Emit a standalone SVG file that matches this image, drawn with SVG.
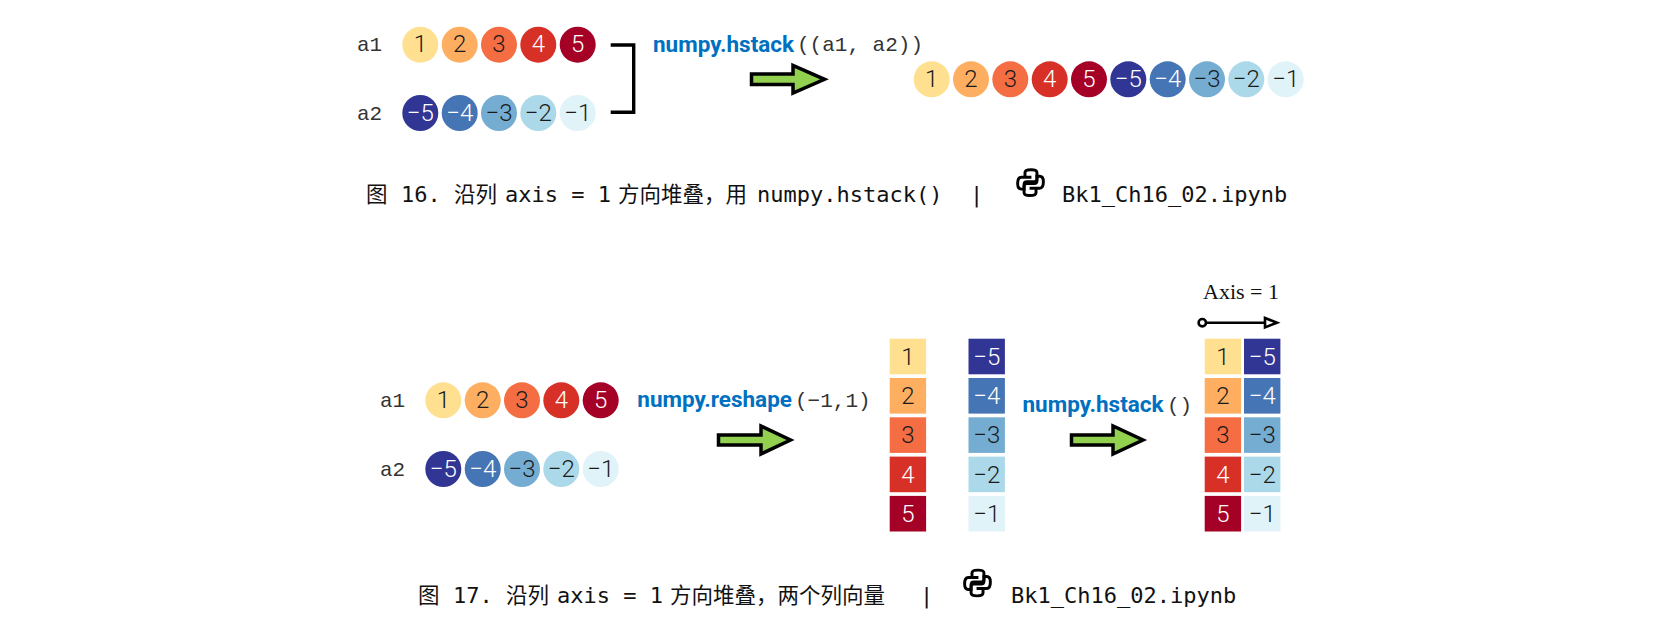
<svg xmlns="http://www.w3.org/2000/svg" width="1655" height="617" viewBox="0 0 1655 617">
<style>
.n{font-family:Roboto,"Liberation Sans",sans-serif;font-weight:300;font-size:24px;text-anchor:middle}
.d{fill:#1a1a1a}.w{fill:#fff}
.m{font-family:"Liberation Mono",monospace;font-size:21px;fill:#333}
.f{font-family:Roboto,"Liberation Sans",sans-serif;font-weight:700;font-size:22.500px;fill:#0070c0}
.c{font-family:"DejaVu Sans Mono","Noto Sans CJK SC",monospace;font-size:22px;fill:#111}
.cj{font-family:"Noto Sans CJK SC",sans-serif;font-size:21.500px;fill:#111}
.ar{fill:#92d050;stroke:#000;stroke-width:3.500;stroke-linejoin:miter}
.ic{fill:none;stroke:#000;stroke-width:3.200}
.c1{fill:#fee090}.c2{fill:#fdae61}.c3{fill:#f46d43}.c4{fill:#d73027}.c5{fill:#a50026}
.b5{fill:#313695}.b4{fill:#4575b4}.b3{fill:#74add1}.b2{fill:#abd9e9}.b1{fill:#e0f3f8}
</style>
<defs>
<path id="sn" class="ic" d="M-6,-6 V-11 Q-6,-14 0.500,-14 Q7,-14 7,-11 V-2 Q7,1 4,1 H-4 Q-7,1 -7,4 V7 H-10 Q-14,7 -14,1 Q-14,-6 -10,-6 H1"/>
<g id="py"><g transform="scale(.92)"><use href="#sn"/><use href="#sn" transform="rotate(180)"/></g></g>
<circle id="k" r="18"/>
<rect id="s" width="36.400" height="35.600"/>
</defs>
<g id="fig16-a1">
<text class="m" x="357" y="51">a1</text>
<use href="#k" x="420.300" y="44.700" class="c1"/><text class="n d" x="420.300" y="52.300">1</text>
<use href="#k" x="459.700" y="44.700" class="c2"/><text class="n d" x="459.700" y="52.300">2</text>
<use href="#k" x="499" y="44.700" class="c3"/><text class="n d" x="499" y="52.300">3</text>
<use href="#k" x="538.300" y="44.700" class="c4"/><text class="n w" x="538.300" y="52.300">4</text>
<use href="#k" x="577.700" y="44.700" class="c5"/><text class="n w" x="577.700" y="52.300">5</text>
</g>
<g id="fig16-a2">
<text class="m" x="357" y="120">a2</text>
<use href="#k" x="420.300" y="113" class="b5"/><text class="n w" x="420.300" y="120.600">−5</text>
<use href="#k" x="459.700" y="113" class="b4"/><text class="n w" x="459.700" y="120.600">−4</text>
<use href="#k" x="499" y="113" class="b3"/><text class="n d" x="499" y="120.600">−3</text>
<use href="#k" x="538.300" y="113" class="b2"/><text class="n d" x="538.300" y="120.600">−2</text>
<use href="#k" x="577.700" y="113" class="b1"/><text class="n d" x="577.700" y="120.600">−1</text>
</g>
<g id="connectors">
<path d="M610.700,45 H633.700 V112.300 H610.700" fill="none" stroke="#000" stroke-width="3.400"/>
<path class="ar" d="M751.500,74 H793 V65.500 L824.500,79.300 L793,93 V84.500 H751.500 Z"/>
<path class="ar" d="M718.500,435 H761 V426 L790.500,440 L761,454 V445 H718.500 Z"/>
<path class="ar" d="M1071.500,435 H1113 V426 L1143,440 L1113,454 V445 H1071.500 Z"/>
<path d="M1206,322.700 H1266" fill="none" stroke="#000" stroke-width="2.600"/>
<circle cx="1202.300" cy="322.700" r="3.700" fill="#fff" stroke="#000" stroke-width="2.600"/>
<path d="M1265,318 L1277,322.700 L1265,327.400 Z" fill="#fff" stroke="#000" stroke-width="2.600"/>
</g>
<g id="fig16-label"><text class="f" x="653" y="52">numpy.hstack</text><text class="m" x="797" y="51">((a1, a2))</text></g>
<g id="fig16-result">
<use href="#k" x="931.700" y="79.300" class="c1"/><text class="n d" x="931.700" y="86.900">1</text>
<use href="#k" x="971" y="79.300" class="c2"/><text class="n d" x="971" y="86.900">2</text>
<use href="#k" x="1010.300" y="79.300" class="c3"/><text class="n d" x="1010.300" y="86.900">3</text>
<use href="#k" x="1049.700" y="79.300" class="c4"/><text class="n w" x="1049.700" y="86.900">4</text>
<use href="#k" x="1089" y="79.300" class="c5"/><text class="n w" x="1089" y="86.900">5</text>
<use href="#k" x="1128.300" y="79.300" class="b5"/><text class="n w" x="1128.300" y="86.900">−5</text>
<use href="#k" x="1167.700" y="79.300" class="b4"/><text class="n w" x="1167.700" y="86.900">−4</text>
<use href="#k" x="1207" y="79.300" class="b3"/><text class="n d" x="1207" y="86.900">−3</text>
<use href="#k" x="1246.300" y="79.300" class="b2"/><text class="n d" x="1246.300" y="86.900">−2</text>
<use href="#k" x="1285.700" y="79.300" class="b1"/><text class="n d" x="1285.700" y="86.900">−1</text>
</g>
<g id="fig16-caption">
<text class="cj" x="366" y="202">图</text><text class="c" x="401" y="202">16.</text><text class="cj" x="454" y="202">沿列</text><text class="c" x="505" y="202">axis = 1</text><text class="cj" x="618" y="202">方向堆叠，用</text><text class="c" x="757" y="202">numpy.hstack()</text><text class="c" x="970" y="202">|</text>
<use href="#py" x="1030.500" y="182.700"/>
<text class="c" x="1062" y="202">Bk1_Ch16_02.ipynb</text>
</g>
<g id="fig17-a1">
<text class="m" x="380" y="407">a1</text>
<use href="#k" x="443.300" y="400.300" class="c1"/><text class="n d" x="443.300" y="407.900">1</text>
<use href="#k" x="482.700" y="400.300" class="c2"/><text class="n d" x="482.700" y="407.900">2</text>
<use href="#k" x="522" y="400.300" class="c3"/><text class="n d" x="522" y="407.900">3</text>
<use href="#k" x="561.300" y="400.300" class="c4"/><text class="n w" x="561.300" y="407.900">4</text>
<use href="#k" x="600.700" y="400.300" class="c5"/><text class="n w" x="600.700" y="407.900">5</text>
</g>
<g id="fig17-a2">
<text class="m" x="380" y="476">a2</text>
<use href="#k" x="443.300" y="469" class="b5"/><text class="n w" x="443.300" y="476.600">−5</text>
<use href="#k" x="482.700" y="469" class="b4"/><text class="n w" x="482.700" y="476.600">−4</text>
<use href="#k" x="522" y="469" class="b3"/><text class="n d" x="522" y="476.600">−3</text>
<use href="#k" x="561.300" y="469" class="b2"/><text class="n d" x="561.300" y="476.600">−2</text>
<use href="#k" x="600.700" y="469" class="b1"/><text class="n d" x="600.700" y="476.600">−1</text>
</g>
<g id="fig17-reshape-label"><text class="f" x="637.300" y="407">numpy.reshape</text><text class="m" x="795" y="407">(−1,1)</text></g>
<g id="fig17-col-a1">
<use href="#s" x="889.700" y="338.700" class="c1"/><text class="n d" x="907.900" y="364.600">1</text>
<use href="#s" x="889.700" y="378" class="c2"/><text class="n d" x="907.900" y="403.900">2</text>
<use href="#s" x="889.700" y="417.300" class="c3"/><text class="n d" x="907.900" y="443.200">3</text>
<use href="#s" x="889.700" y="456.600" class="c4"/><text class="n w" x="907.900" y="482.500">4</text>
<use href="#s" x="889.700" y="495.900" class="c5"/><text class="n w" x="907.900" y="521.800">5</text>
</g>
<g id="fig17-col-a2">
<use href="#s" x="968.500" y="338.700" class="b5"/><text class="n w" x="986.700" y="364.600">−5</text>
<use href="#s" x="968.500" y="378" class="b4"/><text class="n w" x="986.700" y="403.900">−4</text>
<use href="#s" x="968.500" y="417.300" class="b3"/><text class="n d" x="986.700" y="443.200">−3</text>
<use href="#s" x="968.500" y="456.600" class="b2"/><text class="n d" x="986.700" y="482.500">−2</text>
<use href="#s" x="968.500" y="495.900" class="b1"/><text class="n d" x="986.700" y="521.800">−1</text>
</g>
<g id="fig17-hstack-label"><text class="f" x="1022.500" y="412">numpy.hstack</text><text class="m" x="1167" y="412">()</text></g>
<g id="fig17-axis"><text x="1203" y="299.300" font-family="Liberation Serif,serif" font-size="22" fill="#111">Axis = 1</text></g>
<g id="fig17-col-result">
<use href="#s" x="1204.700" y="338.700" class="c1"/><text class="n d" x="1222.900" y="364.600">1</text>
<use href="#s" x="1204.700" y="378" class="c2"/><text class="n d" x="1222.900" y="403.900">2</text>
<use href="#s" x="1204.700" y="417.300" class="c3"/><text class="n d" x="1222.900" y="443.200">3</text>
<use href="#s" x="1204.700" y="456.600" class="c4"/><text class="n w" x="1222.900" y="482.500">4</text>
<use href="#s" x="1204.700" y="495.900" class="c5"/><text class="n w" x="1222.900" y="521.800">5</text>
<use href="#s" x="1244" y="338.700" class="b5"/><text class="n w" x="1262.200" y="364.600">−5</text>
<use href="#s" x="1244" y="378" class="b4"/><text class="n w" x="1262.200" y="403.900">−4</text>
<use href="#s" x="1244" y="417.300" class="b3"/><text class="n d" x="1262.200" y="443.200">−3</text>
<use href="#s" x="1244" y="456.600" class="b2"/><text class="n d" x="1262.200" y="482.500">−2</text>
<use href="#s" x="1244" y="495.900" class="b1"/><text class="n d" x="1262.200" y="521.800">−1</text>
</g>
<g id="fig17-caption">
<text class="cj" x="418" y="603">图</text><text class="c" x="453" y="603">17.</text><text class="cj" x="506" y="603">沿列</text><text class="c" x="557" y="603">axis = 1</text><text class="cj" x="670" y="603">方向堆叠，两个列向量</text><text class="c" x="920" y="603">|</text>
<use href="#py" x="977.500" y="583"/>
<text class="c" x="1011" y="603">Bk1_Ch16_02.ipynb</text>
</g>
</svg>
